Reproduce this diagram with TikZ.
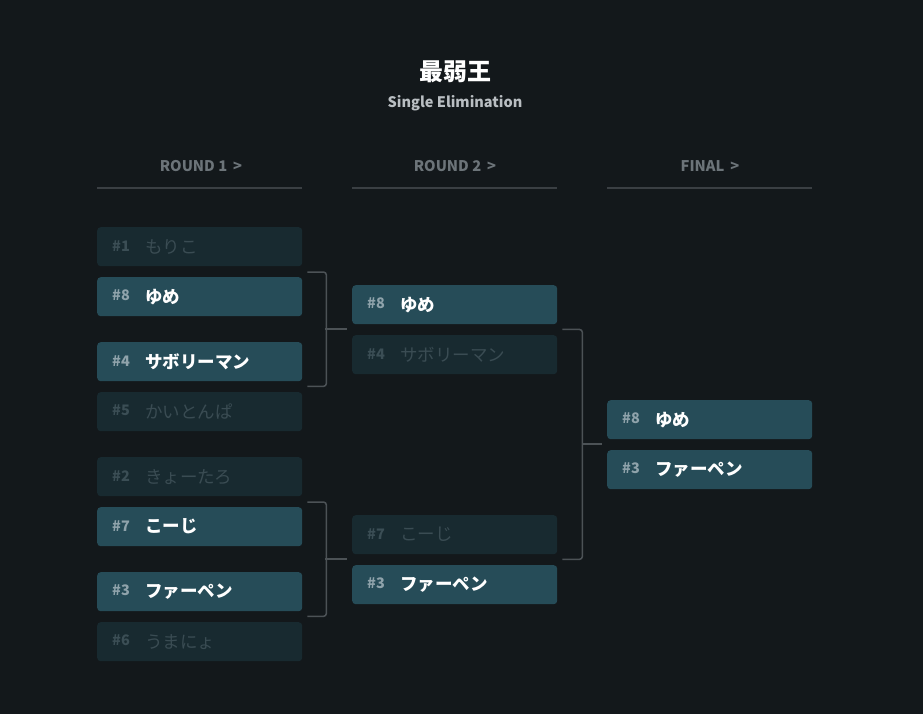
\documentclass[tikz,border=0pt]{standalone}
\usepackage{fontspec}
\setmainfont{Noto Sans CJK JP}
\usetikzlibrary{calc}
\definecolor{bg}{HTML}{13181B}
\definecolor{onfill}{HTML}{264C58}
\definecolor{offfill}{HTML}{182A30}
\definecolor{onseed}{HTML}{8FA3AB}
\definecolor{offseed}{HTML}{3B4E55}
\definecolor{offname}{HTML}{3A4C53}
\definecolor{hdr}{HTML}{6C7479}
\definecolor{rule}{HTML}{3A3F43}
\definecolor{brk}{HTML}{4C5256}
\definecolor{subt}{HTML}{B9BEC2}
\tikzset{
  onbox/.style={fill=onfill, draw=none, rounded corners=3.5pt, minimum width=205pt, minimum height=39pt, inner sep=0pt},
  offbox/.style={fill=offfill, draw=none, rounded corners=3.5pt, minimum width=205pt, minimum height=39pt, inner sep=0pt},
  onseed/.style={text=onseed, font=\bfseries\fontsize{14.5}{15}\selectfont, inner sep=0pt},
  offseed/.style={text=offseed, font=\bfseries\fontsize{14.5}{15}\selectfont, inner sep=0pt},
  onname/.style={text=white, font=\bfseries\fontsize{17.5}{18}\selectfont, inner sep=0pt},
  offname/.style={text=offname, font=\fontsize{17.5}{18}\selectfont, inner sep=0pt},
  hdrtext/.style={text=hdr, font=\bfseries\fontsize{14.7}{15}\selectfont, inner sep=0pt},
  hdrline/.style={draw=rule, line width=1.2pt},
  bracket/.style={draw=brk, line width=1.5pt, rounded corners=3pt},
}
\newcommand\player[6]{%
  \node[#4box, anchor=north west] (#1) at (#2,#3) {};
  \node[#4seed, anchor=west] (#1s) at ([xshift=15pt,yshift=1pt]#1.west) {\##5};
  \node[#4name, anchor=west] (#1n) at ([xshift=48pt]#1.west) {#6};
}
\begin{document}
\begin{tikzpicture}[x=1pt,y=-1pt]
\fill[bg] (0,0) rectangle (923,714);
\useasboundingbox (0,0) rectangle (923,714);

\node[text=white, font=\bfseries\fontsize{24}{25}\selectfont, inner sep=0pt] (title) at (455,72) {最弱王};
\node[text=subt, font=\bfseries\fontsize{14.5}{15}\selectfont, inner sep=0pt] (subtitle) at (455,103) {Single Elimination};

% headers
\node[hdrtext] (h1) at (201,166) {ROUND 1\hspace{6pt}>};
\node[hdrtext] (h2) at (455,166) {ROUND 2\hspace{6pt}>};
\node[hdrtext] (h3) at (710,166) {FINAL\hspace{6pt}>};
\coordinate (l1a) at (97,188); \coordinate (l1b) at (302,188);
\coordinate (l2a) at (352,188); \coordinate (l2b) at (557,188);
\coordinate (l3a) at (607,188); \coordinate (l3b) at (812,188);
\draw[hdrline] (l1a) -- (l1b);
\draw[hdrline] (l2a) -- (l2b);
\draw[hdrline] (l3a) -- (l3b);

% round 1
\player{a1}{97}{227}{off}{1}{もりこ}
\player{a8}{97}{277}{on}{8}{ゆめ}
\player{a4}{97}{342}{on}{4}{サボリーマン}
\player{a5}{97}{392}{off}{5}{かいとんぱ}
\player{a2}{97}{457}{off}{2}{きょーたろ}
\player{a7}{97}{507}{on}{7}{こーじ}
\player{a3}{97}{572}{on}{3}{ファーペン}
\player{a6}{97}{622}{off}{6}{うまにょ}

% round 2
\player{b8}{352}{285}{on}{8}{ゆめ}
\player{b4}{352}{335}{off}{4}{サボリーマン}
\player{b7}{352}{515}{off}{7}{こーじ}
\player{b3}{352}{565}{on}{3}{ファーペン}

% final
\player{c8}{607}{400}{on}{8}{ゆめ}
\player{c3}{607}{450}{on}{3}{ファーペン}

% brackets round 1
\draw[bracket] ([xshift=5pt,yshift=5pt]a8.north east) -| ([xshift=24pt]a8.east) |- ([xshift=5pt,yshift=-5pt]a4.south east);
\coordinate (m1) at (325,329);
\coordinate (m1e) at (347,329);
\draw[draw=brk, line width=1.5pt] (m1) -- (m1e);

\draw[bracket] ([xshift=5pt,yshift=5pt]a7.north east) -| ([xshift=24pt]a7.east) |- ([xshift=5pt,yshift=-5pt]a3.south east);
\coordinate (m2) at (325,559);
\coordinate (m2e) at (347,559);
\draw[draw=brk, line width=1.5pt] (m2) -- (m2e);

% bracket round 2
\draw[bracket] ([xshift=5pt,yshift=-5pt]b8.south east) -| ([xshift=25pt]b7.east) |- ([xshift=5pt,yshift=-5pt]b7.south east);
\coordinate (m3) at (582,444);
\coordinate (m3e) at (602,444);
\draw[draw=brk, line width=1.5pt] (m3) -- (m3e);
\end{tikzpicture}
\end{document}
